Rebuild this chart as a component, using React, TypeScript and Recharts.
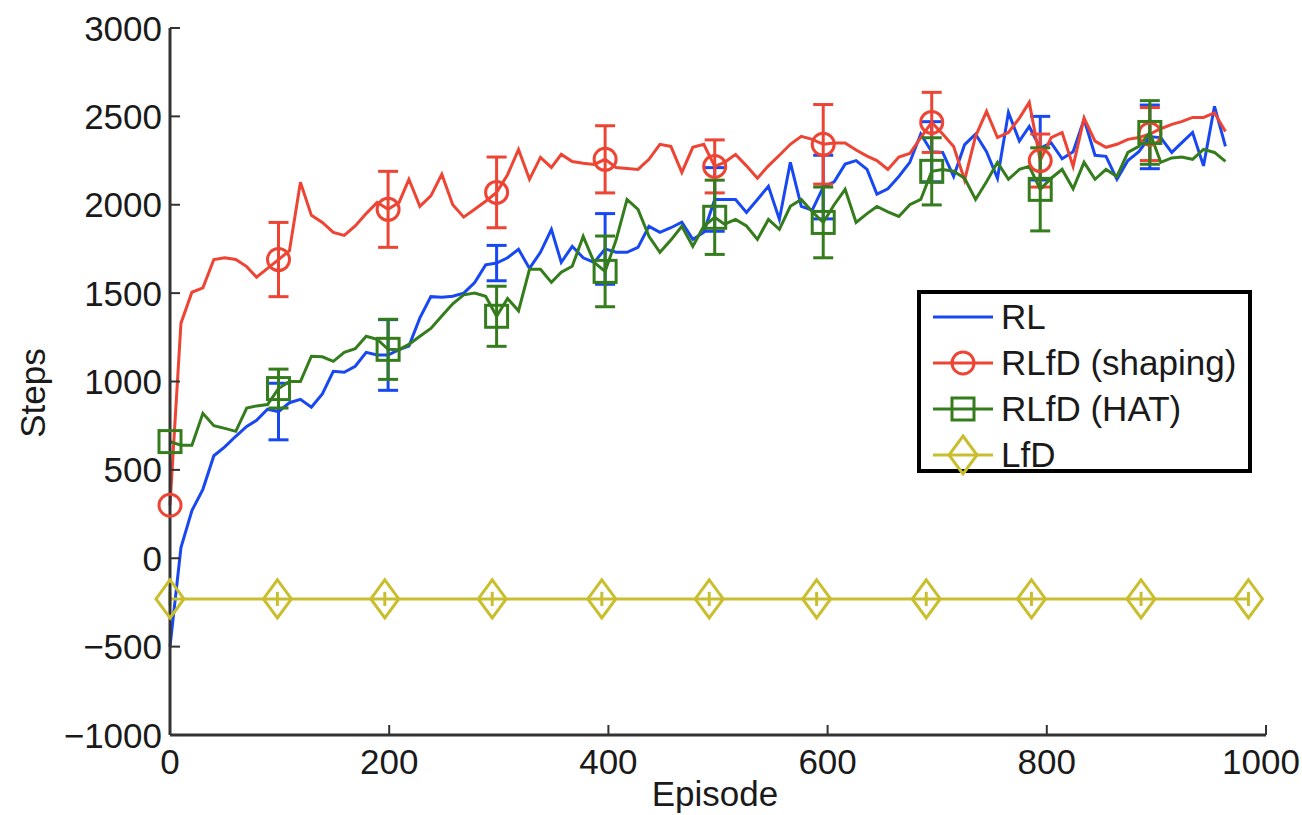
import { LineChart, Line, XAxis, YAxis, ErrorBar, Legend } from 'recharts';

// episode of every logged point (RL, RLfD shaping, RLfD HAT)
const episodes = [
    0, 10, 20, 30, 40, 50, 60, 70, 79, 89,
    99, 109, 119, 129, 139, 149, 159, 169, 179, 189,
    199, 209, 218, 228, 238, 248, 258, 268, 278, 288,
    298, 308, 318, 328, 338, 348, 357, 367, 377, 387,
    397, 407, 417, 427, 437, 447, 457, 467, 477, 487,
    497, 506, 516, 526, 536, 546, 556, 566, 576, 586,
    596, 606, 616, 626, 636, 645, 655, 665, 675, 685,
    695, 705, 715, 725, 735, 745, 755, 765, 775, 784,
    794, 804, 814, 824, 834, 844, 854, 864, 874, 884,
    894, 904, 914, 923, 933, 943, 953, 963,
];

const rlSteps = [
    -500, 60, 270, 390, 580, 630, 690, 746, 780, 843,
    830, 880, 899, 854, 930, 1058, 1052, 1086, 1165, 1150,
    1150, 1180, 1200, 1360, 1480, 1476, 1482, 1500, 1560, 1660,
    1670, 1700, 1748, 1640, 1731, 1861, 1674, 1765, 1700, 1674,
    1750, 1731, 1731, 1759, 1878, 1844, 1870, 1901, 1804, 1844,
    2030, 2030, 2030, 1957, 2030, 2104, 1917, 2240, 1991, 1970,
    2100, 2130, 2230, 2250, 2200, 2060, 2090, 2160, 2240, 2400,
    2300, 2296, 2160, 2340, 2400, 2300, 2150, 2522, 2360, 2443,
    2320, 2350, 2260, 2300, 2483, 2280, 2274, 2144, 2250, 2300,
    2384, 2380, 2296, 2350, 2409, 2220, 2557, 2330,
];

const shapingSteps = [
    300, 1330, 1505, 1530, 1690, 1700, 1690, 1650, 1590, 1640,
    1690, 1740, 2127, 1940, 1900, 1844, 1827, 1880, 1950, 2013,
    1974, 2013, 2144, 1991, 2050, 2172, 2000, 1930, 1974, 2020,
    2070, 2170, 2313, 2144, 2268, 2211, 2285, 2245, 2235, 2228,
    2257, 2211, 2205, 2200, 2257, 2342, 2330, 2183, 2325, 2342,
    2217, 2240, 2285, 2220, 2150, 2220, 2280, 2342, 2387, 2370,
    2342, 2350, 2350, 2310, 2275, 2250, 2200, 2270, 2290, 2380,
    2466, 2400, 2330, 2140, 2387, 2528, 2380, 2409, 2490, 2579,
    2250, 2380, 2409, 2217, 2490, 2360, 2325, 2342, 2370, 2380,
    2400, 2430, 2455, 2470, 2494, 2494, 2520, 2415,
];

const hatSteps = [
    660, 640, 640, 820, 750, 735, 718, 850, 862, 870,
    960, 1000, 1000, 1143, 1140, 1114, 1165, 1185, 1256, 1239,
    1182, 1180, 1210, 1256, 1300, 1370, 1440, 1490, 1500, 1482,
    1369, 1470, 1400, 1635, 1635, 1561, 1618, 1652, 1821, 1674,
    1623, 1800, 2030, 1974, 1821, 1731, 1800, 1878, 1765, 1878,
    1929, 1890, 1917, 1880, 1804, 1917, 1861, 1991, 2030, 1960,
    1900, 2000, 2087, 1900, 1950, 1990, 1960, 1934, 2000, 2030,
    2189, 2200, 2190, 2150, 2030, 2130, 2240, 2144, 2200, 2217,
    2087, 2150, 2200, 2090, 2240, 2144, 2200, 2160, 2296, 2330,
    2409, 2240, 2265, 2270, 2257, 2313, 2296, 2245,
];

// error bars, one for every 10th point
const rlErr = [0, 160, 200, 100, 200, 180, 180, 170, 180, 180];
const shapingErr = [0, 210, 215, 200, 190, 150, 225, 170, 150, 150];
const hatErr = [0, 110, 170, 170, 200, 210, 200, 190, 235, 180];

const lfdEpisodes = [0, 98, 196, 294, 394, 492, 590, 690, 786, 886, 984];
const lfdSteps = [-230, -230, -230, -230, -230, -230, -230, -230, -230, -230, -230];
const lfdErr = [40, 40, 40, 40, 40, 40, 40, 40, 40, 40, 40];

const xTicks = [0, 200, 400, 600, 800, 1000];
const yTicks = [-1000, -500, 0, 500, 1000, 1500, 2000, 2500, 3000];

const BLUE = '#1848f2';
const RED = '#ee4433';
const GREEN = '#347c1c';
const YELLOW = '#c9bf2e';
const FONT = '"Liberation Sans", Arial, Helvetica, sans-serif';
const TEXT = '#1a1a1a';

const rows = episodes.map((ep, i) => ({
    ep,
    rl: rlSteps[i],
    shaping: shapingSteps[i],
    hat: hatSteps[i],
    rlErr: i % 10 === 0 ? rlErr[i / 10] : null,
    shapingErr: i % 10 === 0 ? shapingErr[i / 10] : null,
    hatErr: i % 10 === 0 ? hatErr[i / 10] : null,
}));

const lfdRows = lfdEpisodes.map((ep, i) => ({ ep, lfd: lfdSteps[i], lfdErr: lfdErr[i] }));

const circleMark = (cx: number, cy: number, key?: string) => (
    <circle key={key} cx={cx} cy={cy} r={11} fill="none" stroke={RED} strokeWidth={3} />
);
const squareMark = (cx: number, cy: number, key?: string) => (
    <rect key={key} x={cx - 11} y={cy - 11} width={22} height={22} fill="none" stroke={GREEN} strokeWidth={3} />
);
const diamondMark = (cx: number, cy: number, key?: string) => (
    <path
        key={key}
        d={`M${cx},${cy - 19} L${cx + 14},${cy} L${cx},${cy + 19} L${cx - 14},${cy} Z`}
        fill="none"
        stroke={YELLOW}
        strokeWidth={3}
    />
);

const everyTenth = (draw: typeof circleMark) => (p: any) =>
    p.index % 10 === 0 ? draw(p.cx, p.cy, `m-${p.index}`) : <g key={`m-${p.index}`} />;

const YTick = (props: any) => {
    const { x, y, payload } = props;
    const label = payload.value < 0 ? `\u2212${Math.abs(payload.value)}` : `${payload.value}`;
    return (
        <g>
            <line x1={x + 8} x2={x + 18} y1={y} y2={y} stroke="#333" strokeWidth={2} />
            <text x={x} y={y} dy="0.36em" textAnchor="end" fontFamily={FONT} fontSize={35} fill={TEXT}>
                {label}
            </text>
        </g>
    );
};

const XTick = (props: any) => {
    const { x, y, payload } = props;
    // the last label sits a little inside the right edge, as in the original
    const shift = payload.value === 1000 ? -5 : 0;
    return (
        <g>
            <line x1={x} x2={x} y1={y - 14} y2={y - 24} stroke="#333" strokeWidth={2} />
            <text x={x + shift} y={y} dy="0.72em" textAnchor="middle" fontFamily={FONT} fontSize={35} fill={TEXT}>
                {payload.value}
            </text>
        </g>
    );
};

const legendItems = [
    { name: 'RL', color: BLUE, mark: null },
    { name: 'RLfD (shaping)', color: RED, mark: circleMark },
    { name: 'RLfD (HAT)', color: GREEN, mark: squareMark },
    { name: 'LfD', color: YELLOW, mark: diamondMark },
];

const LegendBox = () => (
    <div
        style={{
            width: 335,
            height: 183,
            boxSizing: 'border-box',
            border: '4px solid #000',
            background: '#fff',
            fontFamily: FONT,
            fontSize: 35,
            color: TEXT,
        }}>
        {legendItems.map((item) => (
            <div key={item.name} style={{ display: 'flex', alignItems: 'center', height: 46 }}>
                <svg width={64} height={46} style={{ marginLeft: 10, flexShrink: 0 }}>
                    <line x1={2} x2={62} y1={23} y2={23} stroke={item.color} strokeWidth={3} />
                    {item.mark ? item.mark(32, 23) : null}
                </svg>
                <span style={{ marginLeft: 6, whiteSpace: 'nowrap', lineHeight: '46px' }}>{item.name}</span>
            </div>
        ))}
    </div>
);

const App = () => {
    return (
        <div style={{ position: 'absolute', left: 0, top: 0, width: 1302, height: 815, background: '#fff' }}>
            <LineChart width={1302} height={815} margin={{ top: 28, right: 36, bottom: 0, left: 0 }}>
                <XAxis
                    dataKey="ep"
                    type="number"
                    domain={[0, 1000]}
                    ticks={xTicks}
                    height={80}
                    tickSize={0}
                    tickMargin={14}
                    tickLine={false}
                    axisLine={{ stroke: '#333', strokeWidth: 3 }}
                    tick={<XTick />}
                    allowDuplicatedCategory={false}
                    label={{
                        value: 'Episode',
                        content: () => (
                            <text x={715} y={806} textAnchor="middle" fontFamily={FONT} fontSize={35} fill={TEXT}>
                                Episode
                            </text>
                        ),
                    }}
                />
                <YAxis
                    type="number"
                    domain={[-1000, 3000]}
                    ticks={yTicks}
                    width={170}
                    tickSize={0}
                    tickMargin={8}
                    tickLine={false}
                    axisLine={{ stroke: '#333', strokeWidth: 3 }}
                    tick={<YTick />}
                    label={{
                        value: 'Steps',
                        content: () => (
                            <text
                                x={45}
                                y={393}
                                transform="rotate(-90 45 393)"
                                textAnchor="middle"
                                fontFamily={FONT}
                                fontSize={35}
                                fill={TEXT}>
                                Steps
                            </text>
                        ),
                    }}
                />
                <Line
                    data={rows}
                    dataKey="rl"
                    name="RL"
                    stroke={BLUE}
                    strokeWidth={3}
                    dot={false}
                    activeDot={false}
                    isAnimationActive={false}>
                    <ErrorBar dataKey="rlErr" width={10} stroke={BLUE} strokeWidth={3} isAnimationActive={false} />
                </Line>
                <Line
                    data={rows}
                    dataKey="shaping"
                    name="RLfD (shaping)"
                    stroke={RED}
                    strokeWidth={3}
                    dot={everyTenth(circleMark)}
                    activeDot={false}
                    isAnimationActive={false}>
                    <ErrorBar dataKey="shapingErr" width={10} stroke={RED} strokeWidth={3} isAnimationActive={false} />
                </Line>
                <Line
                    data={rows}
                    dataKey="hat"
                    name="RLfD (HAT)"
                    stroke={GREEN}
                    strokeWidth={3}
                    dot={everyTenth(squareMark)}
                    activeDot={false}
                    isAnimationActive={false}>
                    <ErrorBar dataKey="hatErr" width={10} stroke={GREEN} strokeWidth={3} isAnimationActive={false} />
                </Line>
                <Line
                    data={lfdRows}
                    dataKey="lfd"
                    name="LfD"
                    stroke={YELLOW}
                    strokeWidth={3}
                    dot={(p: any) => diamondMark(p.cx, p.cy, `l-${p.index}`)}
                    activeDot={false}
                    isAnimationActive={false}>
                    <ErrorBar dataKey="lfdErr" width={0} stroke={YELLOW} strokeWidth={3} isAnimationActive={false} />
                </Line>
                <Legend
                    layout="vertical"
                    align="center"
                    verticalAlign="middle"
                    content={<LegendBox />}
                    wrapperStyle={{ left: 917, top: 290, width: 335, height: 183 }}
                />
            </LineChart>
        </div>
    );
};

export default App;
